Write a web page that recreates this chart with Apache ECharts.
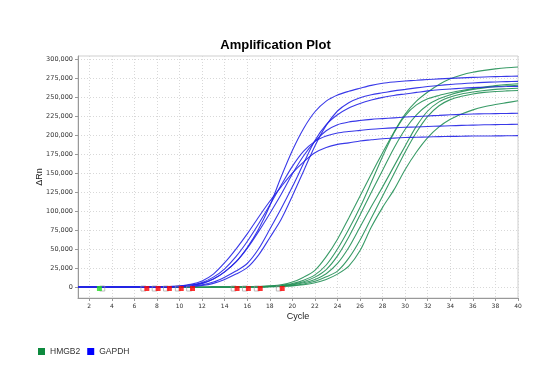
<!DOCTYPE html>
<html><head><meta charset="utf-8">
<script src="https://cdn.jsdelivr.net/npm/echarts@6/dist/echarts.min.js"></script>
<style>html,body{margin:0;padding:0;background:#fff}#c{width:551px;height:386px}</style>
</head><body><div id="c"></div>
<script>
const cycles = Array.from({length: 40}, (_, i) => i + 1);
const yTicks = [0,25000,50000,75000,100000,125000,150000,175000,200000,225000,250000,275000,300000];
const xTicks = [2,4,6,8,10,12,14,16,18,20,22,24,26,28,30,32,34,36,38,40];

// GAPDH (blue)
const gapdh1 = [0,100,-100,0,200,0,-100,100,300,800,2000,4800,10500,20000,33000,52000,76000,107000,145000,180000,209000,231000,245000,253000,258000,262000,265800,268500,270200,271500,272500,273500,274300,275000,275700,276300,276800,277300,277700,278000];
const gapdh2 = [0,-100,100,0,-200,100,0,-100,100,300,800,2000,4800,10000,17000,25500,42000,65000,89000,120000,153000,186000,213000,232000,243000,249500,253500,256000,258500,260500,262500,264200,265700,267000,268000,269000,269700,270300,270700,271000];
const gapdh3 = [0,100,0,-100,100,0,100,0,150,400,1100,2800,6500,13000,21000,31000,50000,76000,103000,132000,163000,193000,214000,227000,236000,242000,246500,250000,252500,254500,256500,258500,260000,261000,262000,262800,263400,263900,264200,264500];
const gapdh4 = [0,0,100,-100,0,200,0,100,300,800,2000,4800,10500,20000,33000,51000,73000,97000,122000,149000,173000,192000,206000,214000,217500,219500,221000,222000,223000,224000,224800,225500,226200,227000,227500,228000,228300,228600,228800,229000];
const gapdh5 = [0,-100,0,100,0,-100,200,100,400,1000,2500,6000,13000,24000,40000,60000,83000,108000,134000,159000,179000,192000,199000,203000,205000,206500,208000,209000,209800,210500,211000,211600,212100,212500,213000,213400,213800,214100,214300,214500];
const gapdh6 = [0,100,-100,0,100,0,-100,200,600,1500,3500,8000,17000,32000,50000,70000,92000,113000,132000,150000,165000,177000,184000,188000,190000,192500,194000,195500,196300,197000,197400,197800,198200,198500,198700,199000,199000,199200,199300,199500];

// HMGB2 (green)
const hmgb1 = [0,-300,-200,-400,-300,-400,-300,-400,-300,-400,-300,-300,-200,-200,-100,100,600,1500,3000,6500,13000,22000,40000,63000,91000,120000,149000,177000,204000,228000,245000,257000,267000,274500,279500,283000,285500,287500,289000,290000];
const hmgb2 = [0,-300,-200,-400,-300,-400,-300,-400,-300,-400,-300,-300,-200,-200,-100,0,400,1000,2200,4500,9000,16000,29000,50000,76000,105000,138000,172000,203000,226000,240000,248000,252500,256000,259000,261500,263500,265500,267000,268000];
const hmgb3 = [0,-300,-200,-400,-300,-400,-300,-400,-300,-400,-300,-300,-200,-200,-100,0,200,800,1800,3600,7000,13000,23000,41000,66000,95000,125000,154000,183000,208000,227000,240000,248000,253500,257500,260500,262500,264000,265200,266000];
const hmgb4 = [0,-300,-200,-400,-300,-400,-300,-400,-300,-400,-300,-300,-200,-200,-100,0,200,600,1400,2800,5500,10000,17500,31000,52000,79000,106000,132000,159000,186000,212000,232000,244000,250500,254500,257000,259000,260500,261300,262000];
const hmgb5 = [0,-300,-200,-400,-300,-400,-300,-400,-300,-400,-300,-300,-200,-200,-100,0,100,400,1000,2000,4000,7500,13500,21000,38000,62000,91000,120000,149000,178000,204000,225000,239000,247000,251500,254500,256500,257800,258500,259000];
const hmgb6 = [0,-300,-200,-400,-300,-400,-300,-400,-300,-400,-300,-300,-200,-200,-100,0,100,300,700,1500,3000,5500,10000,17000,27500,48000,79000,105000,128000,155000,178000,197000,211000,221000,228000,233500,237500,240500,243000,245500];

// baseline markers
const redMarkers = [7.1, 8.1, 9.1, 10.15, 11.15, 15.1, 16.1, 17.15, 19.1];
const greenMarkers = [2.9];
const markerLevel = -2000;

const BLUE = '#2424e6';
const GREEN = '#239056';

function line(name, data, color) {
  return {
    name, type: 'line', data: cycles.map((c, i) => [c, data[i]]),
    showSymbol: false, smooth: 0.3, silent: true,
    lineStyle: { color, width: 1.1, opacity: 0.9 }, itemStyle: { color },
    z: 3
  };
}

const series = [
  line('HMGB2', hmgb1, GREEN), line('HMGB2', hmgb2, GREEN), line('HMGB2', hmgb3, GREEN),
  line('HMGB2', hmgb4, GREEN), line('HMGB2', hmgb5, GREEN), line('HMGB2', hmgb6, GREEN),
  line('GAPDH', gapdh1, BLUE), line('GAPDH', gapdh2, BLUE), line('GAPDH', gapdh3, BLUE),
  line('GAPDH', gapdh4, BLUE), line('GAPDH', gapdh5, BLUE), line('GAPDH', gapdh6, BLUE),
  { type: 'scatter', silent: true, symbol: 'rect', symbolSize: 5, z: 4,
    itemStyle: { color: 'rgba(0,0,0,0)', borderColor: '#999', borderWidth: 0.8 },
    data: redMarkers.map(c => [c - 0.3, markerLevel]).concat(greenMarkers.map(c => [c + 0.25, markerLevel])) },
  { type: 'scatter', silent: true, symbol: 'rect', symbolSize: 5, z: 5,
    itemStyle: { color: '#ff0000' }, data: redMarkers.map(c => [c, markerLevel]) },
  { type: 'scatter', silent: true, symbol: 'rect', symbolSize: 5, z: 5,
    itemStyle: { color: '#22dd22' }, data: greenMarkers.map(c => [c, markerLevel]) }
];

const chart = echarts.init(document.getElementById('c'), null, { renderer: 'canvas' });
chart.setOption({
  animation: false,
  backgroundColor: '#fff',
  title: { text: 'Amplification Plot', left: 'center', top: 34,
    textStyle: { fontFamily: 'Liberation Sans, Arial', fontSize: 13, fontWeight: 'bold', color: '#000' } },
  legend: {
    left: 33, top: 342, itemWidth: 7, itemHeight: 7, itemGap: 7, icon: 'rect',
    textStyle: { fontFamily: 'Liberation Sans, Arial', fontSize: 8.5, color: '#333' },
    data: [{ name: 'HMGB2', itemStyle: { color: '#0d8a3e' } }, { name: 'GAPDH', itemStyle: { color: '#0000ff' } }]
  },
  grid: { left: 78, right: 33, top: 56, bottom: 88, show: true, borderColor: '#cfcfcf', borderWidth: 1 },
  xAxis: {
    type: 'value', min: 1, max: 40,
    name: 'Cycle', nameLocation: 'middle', nameGap: 14, nameMoveOverlap: false,
    nameTextStyle: { fontFamily: 'Liberation Sans, Arial', fontSize: 9, color: '#222' },
    axisLine: { onZero: false, lineStyle: { color: '#999', width: 1 } },
    axisTick: { show: true, length: 3, customValues: xTicks, lineStyle: { color: '#999' } },
    axisLabel: { customValues: xTicks, fontSize: 6, color: '#333', margin: 5, fontFamily: 'DejaVu Sans' },
    splitLine: { show: true, lineStyle: { color: '#d8d8d8', type: [1, 2] } }
  },
  yAxis: {
    type: 'value', min: -14500, max: 304500,
    name: 'ΔRn', nameLocation: 'middle', nameGap: 34, nameRotate: 90, nameMoveOverlap: false,
    nameTextStyle: { fontFamily: 'Liberation Sans, Arial', fontSize: 9, color: '#222' },
    axisLine: { show: true, lineStyle: { color: '#999', width: 1 } },
    axisTick: { show: true, length: 3, customValues: yTicks, lineStyle: { color: '#999' } },
    axisLabel: { customValues: yTicks, fontSize: 6.5, color: '#333', margin: 5, fontFamily: 'DejaVu Sans',
      formatter: v => v.toLocaleString('en-US') },
    splitLine: { show: true, lineStyle: { color: '#d8d8d8', type: [1, 2] } }
  },
  series
});
</script></body></html>
